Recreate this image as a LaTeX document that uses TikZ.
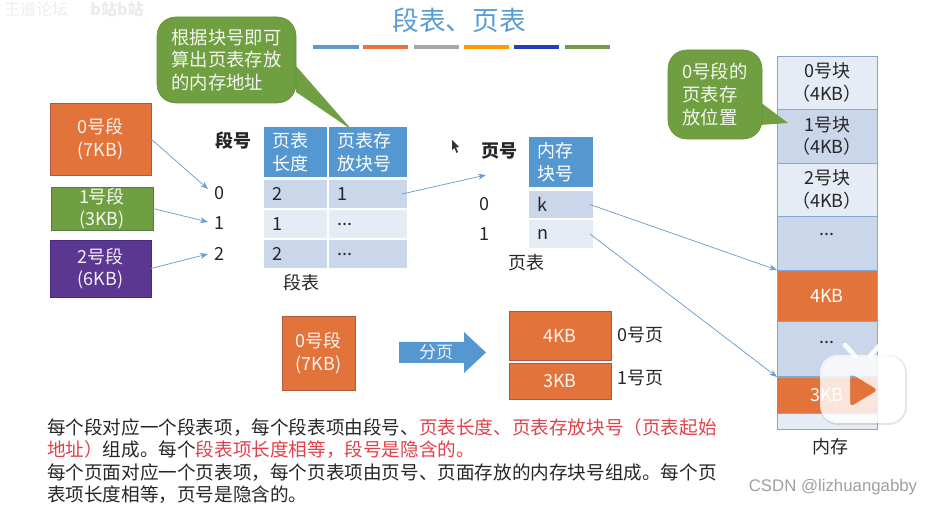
\documentclass[tikz,border=0pt]{standalone}
\usepackage{fontspec}
\setmainfont{Noto Sans CJK SC}
\newfontfamily\csdnfont{Liberation Sans}
\usetikzlibrary{arrows.meta}
\definecolor{hdr}{HTML}{5597D0}
\definecolor{rowa}{HTML}{CAD6E9}
\definecolor{rowb}{HTML}{E6ECF5}
\definecolor{org}{HTML}{E2733A}
\definecolor{grn}{HTML}{6F9F40}
\definecolor{pur}{HTML}{5B3791}
\definecolor{lnk}{HTML}{6C9BCF}
\definecolor{ttl}{HTML}{5B9BD5}
\definecolor{memb}{HTML}{7FA8D8}
\definecolor{redt}{HTML}{E0404A}
\definecolor{txt}{HTML}{262626}
\tikzset{
  wh/.style 2 args={minimum width=#1*0.75pt,minimum height=#2*0.75pt},
  base/.style={inner sep=0pt,outer sep=0pt},
  lab/.style={base,text=txt,font=\fontsize{13.5}{17}\selectfont},
  seg/.style={base,text=white!92!#1,align=center,font=\fontsize{13.5}{17}\selectfont,draw=#1!85!black!90!blue,line width=0.5pt,fill=#1},
  callout/.style={base,fill=grn,draw=grn!90!black,line width=0.4pt,rounded corners=14pt,text=white!92!grn,align=left,font=\fontsize{13.75}{17}\selectfont},
  cell/.style n args={3}{base,fill=#3,align=left,text width=(#1-16)*0.75pt,inner xsep=6pt,minimum height=#2*0.75pt,font=\fontsize{13.5}{17}\selectfont},
  mem/.style={base,draw=memb,line width=0.7pt,align=center,text=txt,font=\fontsize{13.5}{17}\selectfont,minimum width=100*0.75pt},
  bar/.style={line width=3pt,draw=#1},
  lk/.style={draw=lnk,line width=0.55pt,-{Stealth[length=6pt,width=4.5pt]}},
  para/.style={base,anchor=west,text=txt,font=\fontsize{13.95}{17}\selectfont},
}
\begin{document}
\begin{tikzpicture}[x=0.75pt,y=-0.75pt]
\useasboundingbox (0,0) rectangle (932,505);
% watermark
\node[base,text=gray!14,font=\fontsize{12}{14}\selectfont] (wm1) at (36,9) {王道论坛};
\node[base,text=gray!16,font=\bfseries\fontsize{12}{14}\selectfont] (wm2) at (117,9) {b站b站};
% title
\node[base,text=ttl,font=\fontsize{20}{24}\selectfont] (title) at (459,20) {段表、页表};
\draw[bar=ttl] (313,47) -- (359,47);
\draw[bar=org] (363,47) -- (408,47);
\draw[bar={gray!70}] (414,47) -- (459,47);
\draw[bar={orange!80!yellow}] (464,47) -- (509,47);
\draw[bar={blue!50!ttl!80!black}] (514,47) -- (559,47);
\draw[bar=grn] (565,47) -- (610,47);
% segments
\node[seg=org,wh={101}{72}] (s0) at (100.5,139) {0号段\\(7KB)};
\node[seg=grn,wh={102}{43}] (s1) at (102,208.5) {1号段\\(3KB)};
\node[seg=pur,wh={101}{57}] (s2) at (100.5,268.5) {2号段\\(6KB)};
% segment table
\node[lab,font=\bfseries\fontsize{13.5}{17}\selectfont] (dh) at (233,141) {段号};
\node[lab,wh={22}{22}] (d0) at (219,193) {0};
\node[lab,wh={22}{22}] (d1) at (219,223) {1};
\node[lab,wh={22}{22}] (d2) at (219,254) {2};
\node[cell={63}{50}{hdr},text=white] (h1) at (295.5,152) {页表\\长度};
\node[cell={78}{50}{hdr},text=white] (h2) at (368,152) {页表存\\放块号};
\node[cell={63}{28}{rowa},text=txt] (r1a) at (295.5,194) {2};
\node[cell={78}{28}{rowa},text=txt] (r1b) at (368,194) {1};
\node[cell={63}{28}{rowb},text=txt] (r2a) at (295.5,224) {1};
\node[cell={78}{28}{rowb},text=txt] (r2b) at (368,224) {...};
\node[cell={63}{28}{rowa},text=txt] (r3a) at (295.5,254) {2};
\node[cell={78}{28}{rowa},text=txt] (r3b) at (368,254) {...};
\node[lab] (dt) at (301,283) {段表};
% callout 1
\fill[grn] (296,66) -- (352,130) -- (296,92) -- cycle;
\node[callout,wh={139}{86}] (c1) at (226.5,60) {根据块号即可\\算出页表存放\\的内存地址};
% page table
\node[lab,font=\bfseries\fontsize{13.5}{17}\selectfont] (ph) at (499,151) {页号};
\node[lab] (p0) at (484,204) {0};
\node[lab] (p1) at (484,234) {1};
\node[cell={64}{50}{hdr},text=white] (ph1) at (561,162) {内存\\块号};
\node[cell={64}{27}{rowa},text=txt] (pk) at (561,204.5) {k};
\node[cell={64}{28}{rowb},text=txt] (pn) at (561,234) {n};
\node[lab] (pt) at (526,263) {页表};
% memory
\node[mem,fill=rowb,minimum height=53*0.75pt] (m0) at (827,82.5) {0号块\\（4KB）};
\node[mem,fill=rowa,minimum height=54*0.75pt] (m1) at (827,136) {1号块\\（4KB）};
\node[mem,fill=rowb,minimum height=53*0.75pt] (m2) at (827,189.5) {2号块\\（4KB）};
\node[mem,fill=rowa,minimum height=54*0.75pt,anchor=north] (m3) at (827,216) {};
\node[lab] (m3t) at (827,234) {...};
\node[mem,fill=org,text=white,minimum height=51*0.75pt] (m4) at (827,295.5) {4KB};
\node[mem,fill=rowa,minimum height=56*0.75pt,anchor=north] (m5) at (827,321) {};
\node[lab] (m5t) at (827,342) {...};
\node[mem,fill=org,draw=org,text=white,minimum height=36*0.75pt] (m6) at (827,395) {3KB};
\draw[memb,line width=1pt] (m6.north west) -- (m6.north east);
\node[mem,fill=rowb,minimum height=16*0.75pt] (m7) at (827,421) {};
\node[lab] (mt) at (830,447) {内存};
% callout 2
\fill[grn] (760,102) -- (788,123) -- (760,125) -- cycle;
\node[callout,wh={94}{89}] (c2) at (715,94.5) {0号段的\\页表存\\放位置};
% connectors
\coordinate (ptarget) at (486,175);
\draw[lk] (s0.east) -- (d0.160);
\draw[lk] (s1.east) -- (d1.175);
\draw[lk] (s2.east) -- (d2.west);
\draw[lk] ([xshift=-3.75pt]r1b.east) -- (ptarget);
\draw[lk] ([xshift=-2.25pt]pk.east) -- (m4.north west);
\draw[lk] ([xshift=-2.25pt]pn.east) -- (m6.north west);
% split
\node[seg=org,wh={73}{74}] (b0) at (318.5,353) {0号段\\(7KB)};
\fill[hdr] (399,342) -- (464,342) -- (464,332) -- (486,352.5) -- (464,373) -- (464,363) -- (399,363) -- cycle;
\node[base,text=white!90!hdr,font=\fontsize{12.75}{17}\selectfont] (art) at (436,352) {分页};
\node[seg=org,wh={102}{49}] (b1) at (560,335.5) {4KB};
\node[seg=org,wh={102}{36}] (b2) at (560,381) {3KB};
\node[lab] (l0) at (640,335) {0号页};
\node[lab] (l1) at (640,378) {1号页};
% paragraphs
\node[para] (t1) at (47,428) {每个段对应一个段表项，每个段表项由段号、\textcolor{redt}{页表长度、页表存放块号（页表起始}};
\node[para] (t2) at (47,450) {\textcolor{redt}{地址）}组成。每个\textcolor{redt}{段表项长度相等，段号是隐含的。}};
\node[para] (t3) at (47,473) {每个页面对应一个页表项，每个页表项由页号、页面存放的内存块号组成。每个页};
\node[para] (t4) at (47,495) {表项长度相等，页号是隐含的。};
% cursor
\fill[black!80] (452,140) -- (452,150) -- (454.5,148) -- (456.5,153) -- (458,152) -- (456,147.5) -- (459,147) -- cycle;
% video logo
\draw[black,opacity=.10,line width=1.5pt,rounded corners=13pt] (821,356) rectangle (906,424);
\draw[white,line width=3.5pt,line cap=round,opacity=.9] (845,345) -- (855,356);
\draw[white,line width=3.5pt,line cap=round,opacity=.9] (880,345) -- (870,356);
\fill[white,opacity=.82,even odd rule] [rounded corners=13pt] (820,355) rectangle (905,423) [rounded corners=3pt] (850,373) -- (878,390) -- (850,407) -- cycle;
% csdn
\node[base,text=gray!75,font=\csdnfont\fontsize{12.6}{14}\selectfont] (csdn) at (833,487) {CSDN @lizhuangabby};
\end{tikzpicture}
\end{document}
